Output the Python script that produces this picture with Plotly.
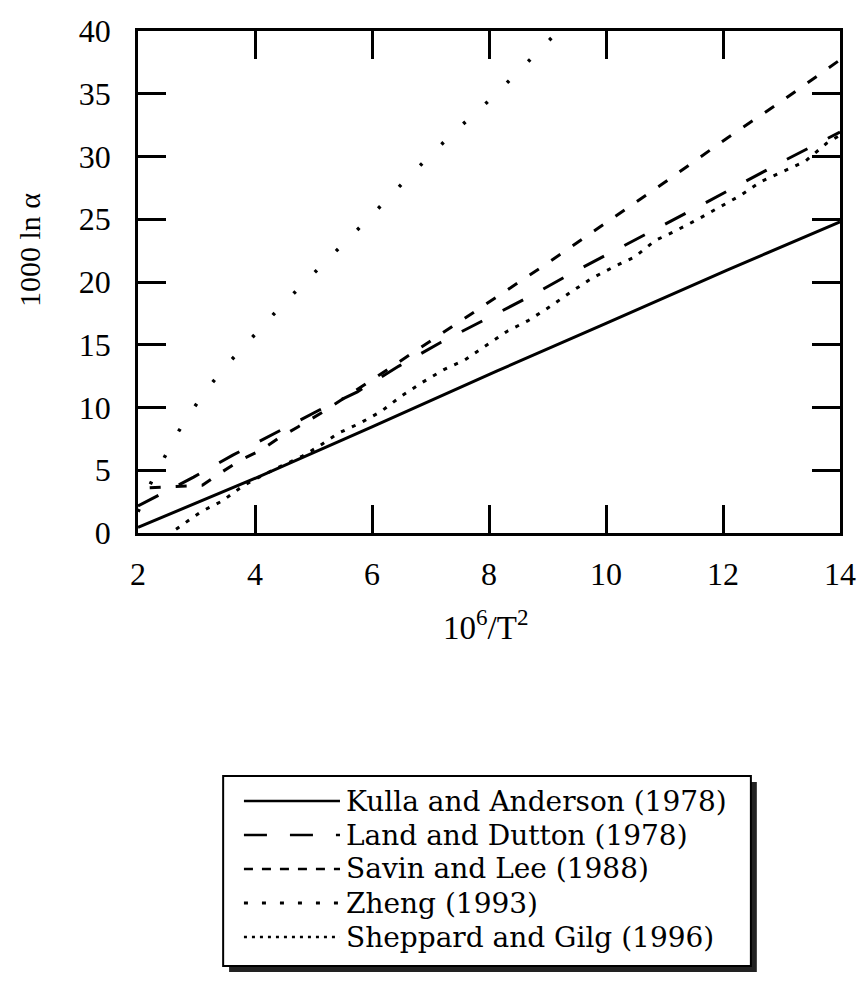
import plotly.graph_objects as go

# 1000 ln(alpha) versus 10^6/T^2 for five published calibrations
kulla_x = [2.0, 4.07, 6.0, 8.13, 10.0, 12.08, 14.0]
kulla_y = [0.45, 4.49, 8.45, 12.9, 16.7, 20.96, 24.8]

land_x = [2.0, 2.95, 3.62, 4.37, 5.1, 5.75, 6.46, 7.18, 7.97, 8.7, 9.43, 10.15,
          10.88, 11.6, 12.32, 13.06, 14.0]
land_y = [2.15, 4.45, 6.2, 8.0, 9.8, 11.25, 13.3, 15.2, 17.1, 18.85, 20.75, 22.5,
          24.3, 26.05, 27.86, 29.7, 31.95]

savin_x = [2.2, 3.1, 3.38, 3.75, 4.1, 4.4, 4.74, 5.17, 6.0, 7.0, 8.07, 9.0, 9.9,
           10.98, 12.08, 13.0, 14.0]
savin_y = [3.6, 3.8, 4.7, 5.8, 6.6, 7.55, 8.47, 9.67, 12.2, 15.3, 18.57, 21.5, 24.4,
           27.86, 31.5, 34.4, 37.7]

zheng_x = [2.0, 2.12, 2.29, 2.49, 2.68, 2.9, 3.17, 3.5, 4.0, 4.47, 5.2, 5.93, 6.64,
           7.37, 8.08, 8.8, 9.25]
zheng_y = [1.7, 2.9, 4.7, 6.35, 8.0, 9.6, 11.4, 13.3, 15.85, 18.2, 21.6, 25.0, 28.45,
           31.8, 34.8, 38.2, 40.3]

sheppard_x = [2.65, 2.71, 3.08, 3.44, 3.78, 3.95, 4.3, 4.8, 5.08, 5.42, 5.79, 6.15,
              6.5, 6.86, 7.22, 7.59, 7.96, 8.32, 8.66, 9.03, 9.4, 9.76, 10.13, 10.49,
              10.84, 11.2, 11.57, 11.94, 12.3, 12.65, 13.04, 13.4, 13.77, 14.0]
sheppard_y = [0.3, 0.5, 1.7, 2.55, 3.7, 4.15, 5.0, 6.1, 6.88, 7.94, 8.74, 9.67,
              10.9, 12.0, 13.0, 13.8, 15.0, 16.1, 16.9, 18.0, 19.2, 20.3, 21.2, 22.0,
              23.3, 24.1, 25.0, 25.95, 26.9, 28.0, 28.8, 29.6, 31.05, 31.7]

series_names = ["Kulla and Anderson (1978)", "Land and Dutton (1978)",
                "Savin and Lee (1988)", "Zheng (1993)", "Sheppard and Gilg (1996)"]

x_ticks = [2, 4, 6, 8, 10, 12, 14]
y_ticks = [0, 5, 10, 15, 20, 25, 30, 35, 40]

FONT = "Liberation Serif"
LEGEND_FONT = "DejaVu Serif"
W, H = 868, 998
ML, MR, MT, MB = 138, 21, 31, 465
PW, PH = W - ML - MR, H - MT - MB

def px(xp):
    return (xp - ML) / PW

def py(yp):
    return (H - MB - yp) / PH

styles = [
    dict(width=3, dash="solid"),
    dict(width=3, dash="23px,23px"),
    dict(width=3, dash="11px,15px"),
    dict(width=3.5, dash="3px,27px"),
    dict(width=3, dash="4px,8px"),
]
legend_dash = ["solid", "23px,23px", "9px,9px", "4px,14px", "3px,5px"]

fig = go.Figure()
for name, xs, ys, st in zip(series_names,
                            [kulla_x, land_x, savin_x, zheng_x, sheppard_x],
                            [kulla_y, land_y, savin_y, zheng_y, sheppard_y],
                            styles):
    fig.add_trace(go.Scatter(x=xs, y=ys, mode="lines", name=name,
                             line=dict(color="black", **st), showlegend=False))

axis_common = dict(showline=True, linecolor="black", linewidth=2.5, mirror="ticks",
                   ticks="inside", ticklen=28, tickwidth=2.5, tickcolor="black",
                   showgrid=False, zeroline=False,
                   tickfont=dict(family=FONT, size=32, color="black"))

fig.update_xaxes(range=[2, 14], tickvals=x_ticks, ticklabelstandoff=11, **axis_common)
fig.update_yaxes(range=[0, 40], tickvals=y_ticks, ticklabelstandoff=18, **axis_common)

shapes = []
annotations = []

# axis titles
annotations.append(dict(x=px(489), y=py(625), xref="paper", yref="paper",
                        text="10<sup>6</sup>/T<sup>2</sup>", showarrow=False,
                        font=dict(family=FONT, size=33, color="black"),
                        xanchor="center", yanchor="middle"))
annotations.append(dict(x=px(29), y=py(250), xref="paper", yref="paper",
                        text="1000 ln α", showarrow=False, textangle=-90,
                        font=dict(family=FONT, size=30, color="black"),
                        xanchor="center", yanchor="middle"))

# legend box with drop shadow
bx0, by0, bx1, by1 = 224, 776, 757, 966
shapes.append(dict(type="rect", xref="paper", yref="paper",
                   x0=px(bx0 + 6), x1=px(bx1 + 6), y0=py(by0 + 6), y1=py(by1 + 6),
                   fillcolor="#222222", line=dict(width=0)))
shapes.append(dict(type="rect", xref="paper", yref="paper",
                   x0=px(bx0), x1=px(bx1), y0=py(by0), y1=py(by1),
                   fillcolor="white", line=dict(color="black", width=2)))

row_y = [801, 835, 869, 903, 937]
for name, ry, st, ld in zip(series_names, row_y, styles, legend_dash):
    shapes.append(dict(type="line", xref="paper", yref="paper",
                       x0=px(245), x1=px(342), y0=py(ry), y1=py(ry),
                       line=dict(color="black", width=st["width"] - 0.5, dash=ld)))
    annotations.append(dict(x=px(346), y=py(ry), xref="paper", yref="paper",
                            text=name, showarrow=False,
                            font=dict(family=LEGEND_FONT, size=28, color="black"),
                            xanchor="left", yanchor="middle"))

fig.update_layout(width=W, height=H,
                  margin=dict(l=ML, r=MR, t=MT, b=MB, pad=0),
                  paper_bgcolor="white", plot_bgcolor="white",
                  shapes=shapes, annotations=annotations)

fig.write_html("out.html")
